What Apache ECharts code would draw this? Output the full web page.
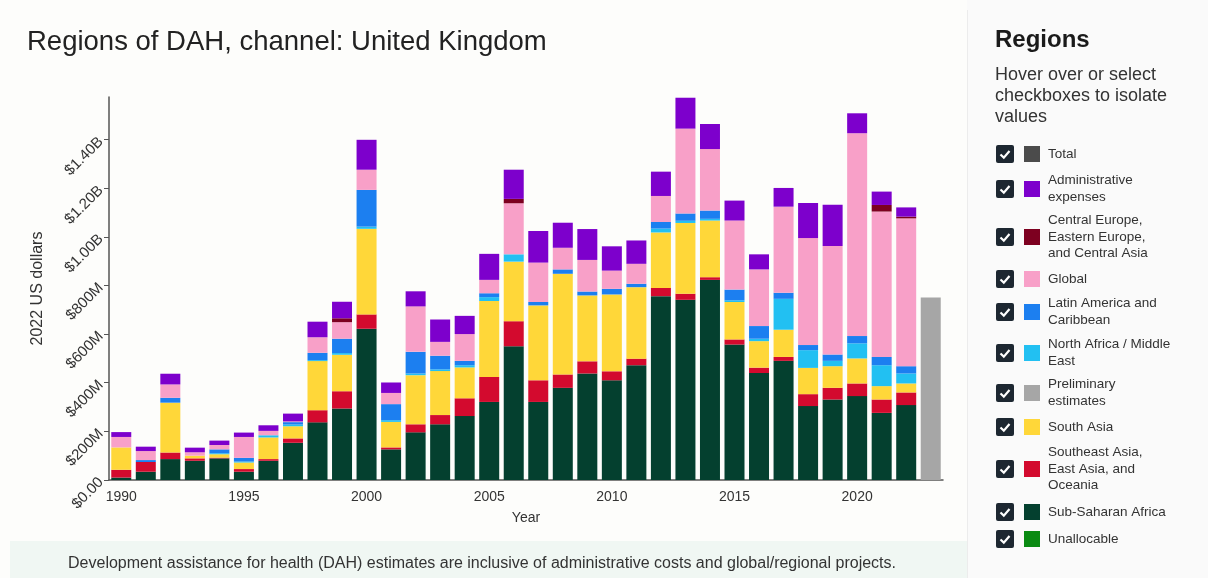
<!DOCTYPE html>
<html>
<head>
<meta charset="utf-8">
<title>Regions of DAH, channel: United Kingdom</title>
<script src="https://cdn.jsdelivr.net/npm/echarts@6/dist/echarts.min.js"></script>
<style>
  html, body { margin: 0; padding: 0; background: #fdfdfb; }
  #chart { width: 1208px; height: 578px; }
</style>
</head>
<body>
<div id="chart"></div>
<script>
// Years on the x axis (2023 holds only the preliminary estimate)
const years = [1990, 1991, 1992, 1993, 1994, 1995, 1996, 1997, 1998, 1999,
               2000, 2001, 2002, 2003, 2004, 2005, 2006, 2007, 2008, 2009,
               2010, 2011, 2012, 2013, 2014, 2015, 2016, 2017, 2018, 2019,
               2020, 2021, 2022, 2023];

// DAH by region, millions of 2022 US dollars
const unallocable = [0, 0, 0, 0, 0, 0, 0, 0, 0, 0, 0, 0, 0, 0, 0, 0, 0, 0, 0, 0,
                     0, 0, 0, 0, 0, 0, 0, 0, 0, 0, 0, 0, 0, null];
const subSaharanAfrica = [10, 34, 86, 79, 89, 34, 79, 153, 237, 294, 622, 126, 196, 229, 263, 321, 550, 321, 379, 438,
                          410, 472, 756, 741, 823, 557, 440, 490, 304, 331, 345, 276, 308, null];
const southeastAsia = [32, 40, 27, 10, 3, 11, 7, 18, 50, 71, 59, 8, 33, 38, 73, 103, 103, 89, 55, 50,
                       37, 27, 34, 25, 11, 21, 22, 16, 49, 48, 52, 55, 52, null];
const southAsia = [92, 0, 205, 11, 14, 27, 89, 50, 202, 150, 352, 105, 202, 181, 127, 312, 245, 308, 414, 271,
                   316, 294, 228, 291, 233, 154, 109, 112, 108, 89, 103, 55, 37, null];
const preliminary = [null, null, null, null, null, null, null, null, null, null, null, null, null, null, null, null, null,
                     null, null, null, null, null, null, null, null, null, null, null, null, null, null, null, null, 750];
const northAfricaMiddleEast = [0, 0, 0, 0, 4, 4, 9, 7, 4, 7, 9, 7, 7, 7, 9, 16, 30, 0, 0, 0,
                               0, 0, 16, 9, 7, 7, 10, 127, 73, 22, 62, 86, 41, null];
const latinAmerica = [0, 8, 20, 0, 16, 15, 0, 10, 30, 59, 151, 66, 89, 56, 18, 16, 0, 14, 18, 16,
                      23, 14, 27, 30, 34, 44, 52, 25, 21, 26, 30, 34, 30, null];
const globalProjects = [43, 37, 55, 14, 18, 86, 18, 3, 64, 68, 83, 46, 187, 57, 110, 55, 210, 162, 89, 130,
                        75, 82, 107, 349, 253, 284, 233, 354, 440, 446, 834, 598, 608, null];
const centralEurope = [0, 0, 0, 0, 0, 0, 0, 0, 0, 16, 0, 0, 0, 0, 0, 0, 18, 0, 0, 0,
                       0, 0, 0, 0, 0, 0, 0, 0, 0, 0, 0, 27, 7, null];
const adminExpenses = [20, 18, 44, 19, 18, 18, 23, 32, 64, 68, 123, 43, 62, 92, 75, 107, 120, 130, 103, 127,
                       100, 96, 100, 127, 103, 82, 62, 77, 144, 170, 82, 55, 38, null];

// Y tick labels, one per 200M step starting at zero
const yTickLabels = ['$0.00', '$200M', '$400M', '$600M', '$800M', '$1.00B', '$1.20B', '$1.40B'];

// Stack order, bottom to top
const stackSeries = [
  { name: 'Unallocable', color: '#0a8a12', data: unallocable },
  { name: 'Sub-Saharan Africa', color: '#04402f', data: subSaharanAfrica },
  { name: 'Southeast Asia, East Asia, and Oceania', color: '#d30a2e', data: southeastAsia },
  { name: 'South Asia', color: '#ffd739', data: southAsia },
  { name: 'Preliminary estimates', color: '#a6a6a6', data: preliminary },
  { name: 'North Africa / Middle East', color: '#22c0f2', data: northAfricaMiddleEast },
  { name: 'Latin America and Caribbean', color: '#1c7ff0', data: latinAmerica },
  { name: 'Global', color: '#f8a0c8', data: globalProjects },
  { name: 'Central Europe, Eastern Europe, and Central Asia', color: '#7d0020', data: centralEurope },
  { name: 'Administrative expenses', color: '#7d00cc', data: adminExpenses }
];

// Legend panel entries (label lines as displayed)
const legendItems = [
  { lines: ['Total'], color: '#4b4b4b' },
  { lines: ['Administrative', 'expenses'], color: '#7d00cc' },
  { lines: ['Central Europe,', 'Eastern Europe,', 'and Central Asia'], color: '#7d0020' },
  { lines: ['Global'], color: '#f8a0c8' },
  { lines: ['Latin America and', 'Caribbean'], color: '#1c7ff0' },
  { lines: ['North Africa / Middle', 'East'], color: '#22c0f2' },
  { lines: ['Preliminary', 'estimates'], color: '#a6a6a6' },
  { lines: ['South Asia'], color: '#ffd739' },
  { lines: ['Southeast Asia,', 'East Asia, and', 'Oceania'], color: '#d30a2e' },
  { lines: ['Sub-Saharan Africa'], color: '#04402f' },
  { lines: ['Unallocable'], color: '#0a8a12' }
];
const legendRowCenters = [154, 189, 237, 279, 312, 353, 393, 427, 469, 512, 539];

const FONT = '"Liberation Sans", Arial, sans-serif';
const chart = echarts.init(document.getElementById('chart'), null, { renderer: 'canvas' });

const graphics = [
  // right-hand legend panel
  { type: 'rect', silent: true, z: -10, shape: { x: 967, y: 0, width: 241, height: 578 },
    style: { fill: '#fafafa' } },
  { type: 'line', silent: true, z: -9, shape: { x1: 967.5, y1: 10, x2: 967.5, y2: 578 },
    style: { stroke: '#ececec', lineWidth: 1 } },
  // footnote band
  { type: 'rect', silent: true, z: -10, shape: { x: 10, y: 541, width: 957, height: 37 },
    style: { fill: '#f0f7f3' } },
  { type: 'text', x: 482, y: 564, style: {
      text: 'Development assistance for health (DAH) estimates are inclusive of administrative costs and global/regional projects.',
      font: '16px ' + FONT, fill: '#333', align: 'center', verticalAlign: 'middle' } },
  // chart title
  { type: 'text', x: 27, y: 42, style: {
      text: 'Regions of DAH, channel: United Kingdom',
      font: '27.5px ' + FONT, fill: '#222', verticalAlign: 'middle' } },
  // legend header
  { type: 'text', x: 995, y: 40, style: {
      text: 'Regions', font: 'bold 24px ' + FONT, fill: '#1a1a1a', verticalAlign: 'middle' } },
  { type: 'text', x: 995, y: 96, style: {
      text: 'Hover over or select\ncheckboxes to isolate\nvalues', font: '18px ' + FONT,
      lineHeight: 21, fill: '#333', verticalAlign: 'middle' } }
];

legendItems.forEach(function (item, i) {
  const cy = legendRowCenters[i];
  graphics.push({ type: 'rect', silent: true, shape: { x: 996, y: cy - 9, width: 18, height: 18, r: 2 },
                  style: { fill: '#1d2731' } });
  graphics.push({ type: 'polyline', silent: true,
                  shape: { points: [[1000.5, cy + 0.5], [1003.8, cy + 3.6], [1009.5, cy - 3]] },
                  style: { stroke: '#ffffff', lineWidth: 2.2, fill: null } });
  graphics.push({ type: 'rect', silent: true, shape: { x: 1024, y: cy - 8, width: 16, height: 16 },
                  style: { fill: item.color } });
  graphics.push({ type: 'text', x: 1048, y: cy, style: {
      text: item.lines.join('\n'), font: '13.5px ' + FONT, lineHeight: 16.5,
      fill: '#333', verticalAlign: 'middle' } });
});

chart.setOption({
  animation: false,
  backgroundColor: '#fdfdfb',
  grid: { left: 109, top: 97, width: 834, height: 383, containLabel: false },
  xAxis: {
    type: 'category',
    data: years,
    boundaryGap: true,
    name: 'Year',
    nameLocation: 'middle',
    nameGap: 31,
    nameTextStyle: { fontFamily: FONT, fontSize: 14, color: '#333' },
    axisLine: { lineStyle: { color: '#555', width: 1.5 } },
    axisTick: { alignWithLabel: true, interval: 0, length: 5, lineStyle: { color: '#555' } },
    axisLabel: {
      interval: function (index, value) { return Number(value) % 5 === 0; },
      fontFamily: FONT, fontSize: 14, color: '#333', margin: 10
    },
    splitLine: { show: false }
  },
  yAxis: {
    type: 'value',
    min: 0,
    max: 1575,
    interval: 200,
    name: '2022 US dollars',
    nameLocation: 'middle',
    nameGap: 63,
    nameRotate: 90,
    nameTextStyle: { fontFamily: FONT, fontSize: 16, color: '#333' },
    axisLine: { show: true, lineStyle: { color: '#555', width: 1.5 } },
    axisTick: { show: true, length: 5, lineStyle: { color: '#555' } },
    axisLabel: {
      rotate: 45,
      showMaxLabel: false,
      fontFamily: FONT, fontSize: 15, color: '#333', margin: 8,
      formatter: function (v) { return yTickLabels[Math.round(v / 200)] || ''; }
    },
    splitLine: { show: false }
  },
  series: stackSeries.map(function (s) {
    return {
      name: s.name,
      type: 'bar',
      stack: 'total',
      barWidth: 20,
      itemStyle: { color: s.color },
      data: s.data
    };
  }),
  graphic: graphics
});
</script>
</body>
</html>
